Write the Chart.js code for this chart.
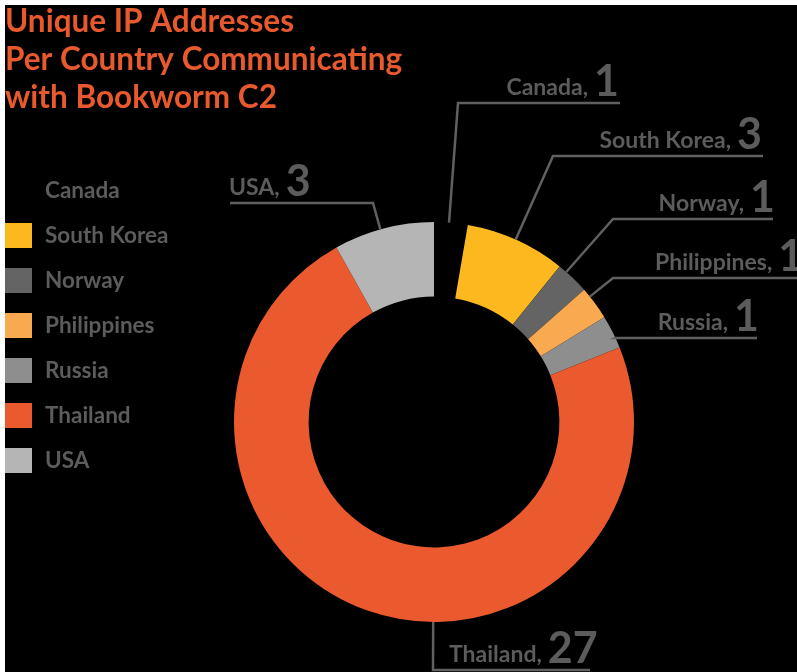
<!DOCTYPE html>
<html><head><meta charset="utf-8">
<script src="https://cdn.jsdelivr.net/npm/chart.js@4"></script>
<style>html,body{margin:0;padding:0;background:#fff;overflow:hidden}canvas{display:block}</style>
</head><body>
<canvas id="c" width="797" height="672"></canvas>
<script>
// ---- data ----
const categories = ['Canada', 'South Korea', 'Norway', 'Philippines', 'Russia', 'Thailand', 'USA'];
const ipCounts = [1, 3, 1, 1, 1, 27, 3];
const sliceColors = ['#000000', '#FDB81F', '#646464', '#F9A94F', '#8E8E8E', '#EA5A2E', '#B5B5B5'];
const titleLines = ['Unique IP Addresses', 'Per Country Communicating', 'with Bookworm C2'];

// ---- layout (positions only) ----
const calloutLayout = [
  { elbow: [458, 103], endX: 620, side: 'right', textX: 619 },
  { elbow: [553, 156], endX: 763, side: 'right', textX: 762 },
  { elbow: [613, 219], endX: 773, side: 'right', textX: 775 },
  { elbow: [613, 278], endX: 800, side: 'left',  textX: 655 },
  { elbow: [615, 338], endX: 757, side: 'right', textX: 759 },
  { elbow: [433, 670], endX: 590, side: 'left',  textX: 449 },
  { elbow: [373, 203], endX: 230, side: 'left',  textX: 229 }
];
const TEXT_GREY = '#5c5c5c';
const TITLE_COLOR = '#E8592D';
const NAME_FONT = 'bold 23px Lato';
const NUM_FONT = 'bold 43px Lato';

const decorPlugin = {
  id: 'decor',
  beforeDraw(chart) {
    const ctx = chart.ctx;
    ctx.save();
    ctx.fillStyle = '#ffffff';
    ctx.fillRect(0, 0, chart.width, chart.height);
    ctx.fillStyle = '#000000';
    ctx.fillRect(5, 5, chart.width - 5, chart.height - 5);
    ctx.restore();
  },
  afterDraw(chart) {
    const ctx = chart.ctx;
    ctx.save();
    // title
    ctx.fillStyle = TITLE_COLOR;
    ctx.font = 'bold 31.5px Lato';
    ctx.textBaseline = 'alphabetic';
    ctx.textAlign = 'left';
    titleLines.forEach((t, i) => ctx.fillText(t, 5, 32 + i * 38));

    // legend
    const ds = chart.data.datasets[0];
    chart.data.labels.forEach((lab, i) => {
      const cy = 190.5 + i * 45;
      ctx.fillStyle = ds.backgroundColor[i];
      ctx.fillRect(5, cy - 12.5, 27, 25);
      ctx.fillStyle = TEXT_GREY;
      ctx.font = 'bold 22.5px Lato';
      ctx.textBaseline = 'middle';
      ctx.fillText(lab, 45, cy);
    });

    // callouts
    const meta = chart.getDatasetMeta(0);
    ctx.strokeStyle = '#606060';
    ctx.lineWidth = 2.5;
    meta.data.forEach((arc, i) => {
      const p = arc.getProps(['x', 'y', 'startAngle', 'endAngle', 'outerRadius'], true);
      const L = calloutLayout[i];
      let a = Math.atan2(L.elbow[1] - p.y, L.elbow[0] - p.x);
      while (a < p.startAngle) a += 2 * Math.PI;
      while (a >= p.startAngle + 2 * Math.PI) a -= 2 * Math.PI;
      if (a > p.endAngle) {
        const dEnd = a - p.endAngle, dStart = p.startAngle + 2 * Math.PI - a;
        a = dEnd < dStart ? p.endAngle : p.startAngle;
      }
      const ax = p.x + Math.cos(a) * p.outerRadius;
      const ay = p.y + Math.sin(a) * p.outerRadius;
      ctx.beginPath();
      ctx.moveTo(ax, ay);
      ctx.lineTo(L.elbow[0], L.elbow[1]);
      ctx.lineTo(L.endX, L.elbow[1]);
      ctx.stroke();

      const name = chart.data.labels[i] + ',';
      const num = String(ds.data[i]);
      const base = L.elbow[1] - 8;
      ctx.fillStyle = TEXT_GREY;
      ctx.textBaseline = 'alphabetic';
      ctx.font = NUM_FONT;
      const nw = ctx.measureText(num).width;
      ctx.font = NAME_FONT;
      const tw = ctx.measureText(name).width;
      const gap = 6;
      let nameX, numX;
      if (L.side === 'right') {
        numX = L.textX - nw;
        nameX = numX - gap - tw;
      } else {
        nameX = L.textX;
        numX = nameX + tw + gap;
      }
      ctx.textAlign = 'left';
      ctx.font = NAME_FONT;
      ctx.fillText(name, nameX, base);
      ctx.font = NUM_FONT;
      ctx.fillText(num, numX, base + 1);
    });
    ctx.restore();
  }
};

new Chart(document.getElementById('c'), {
  type: 'doughnut',
  data: {
    labels: categories,
    datasets: [{
      data: ipCounts,
      backgroundColor: sliceColors,
      borderWidth: 0
    }]
  },
  options: {
    responsive: false,
    animation: false,
    devicePixelRatio: 1,
    cutout: '62.7%',
    layout: { padding: { left: 234, right: 163, top: 222, bottom: 50 } },
    plugins: { legend: { display: false }, tooltip: { enabled: false }, title: { display: false } }
  },
  plugins: [decorPlugin]
});
</script>
</body></html>
